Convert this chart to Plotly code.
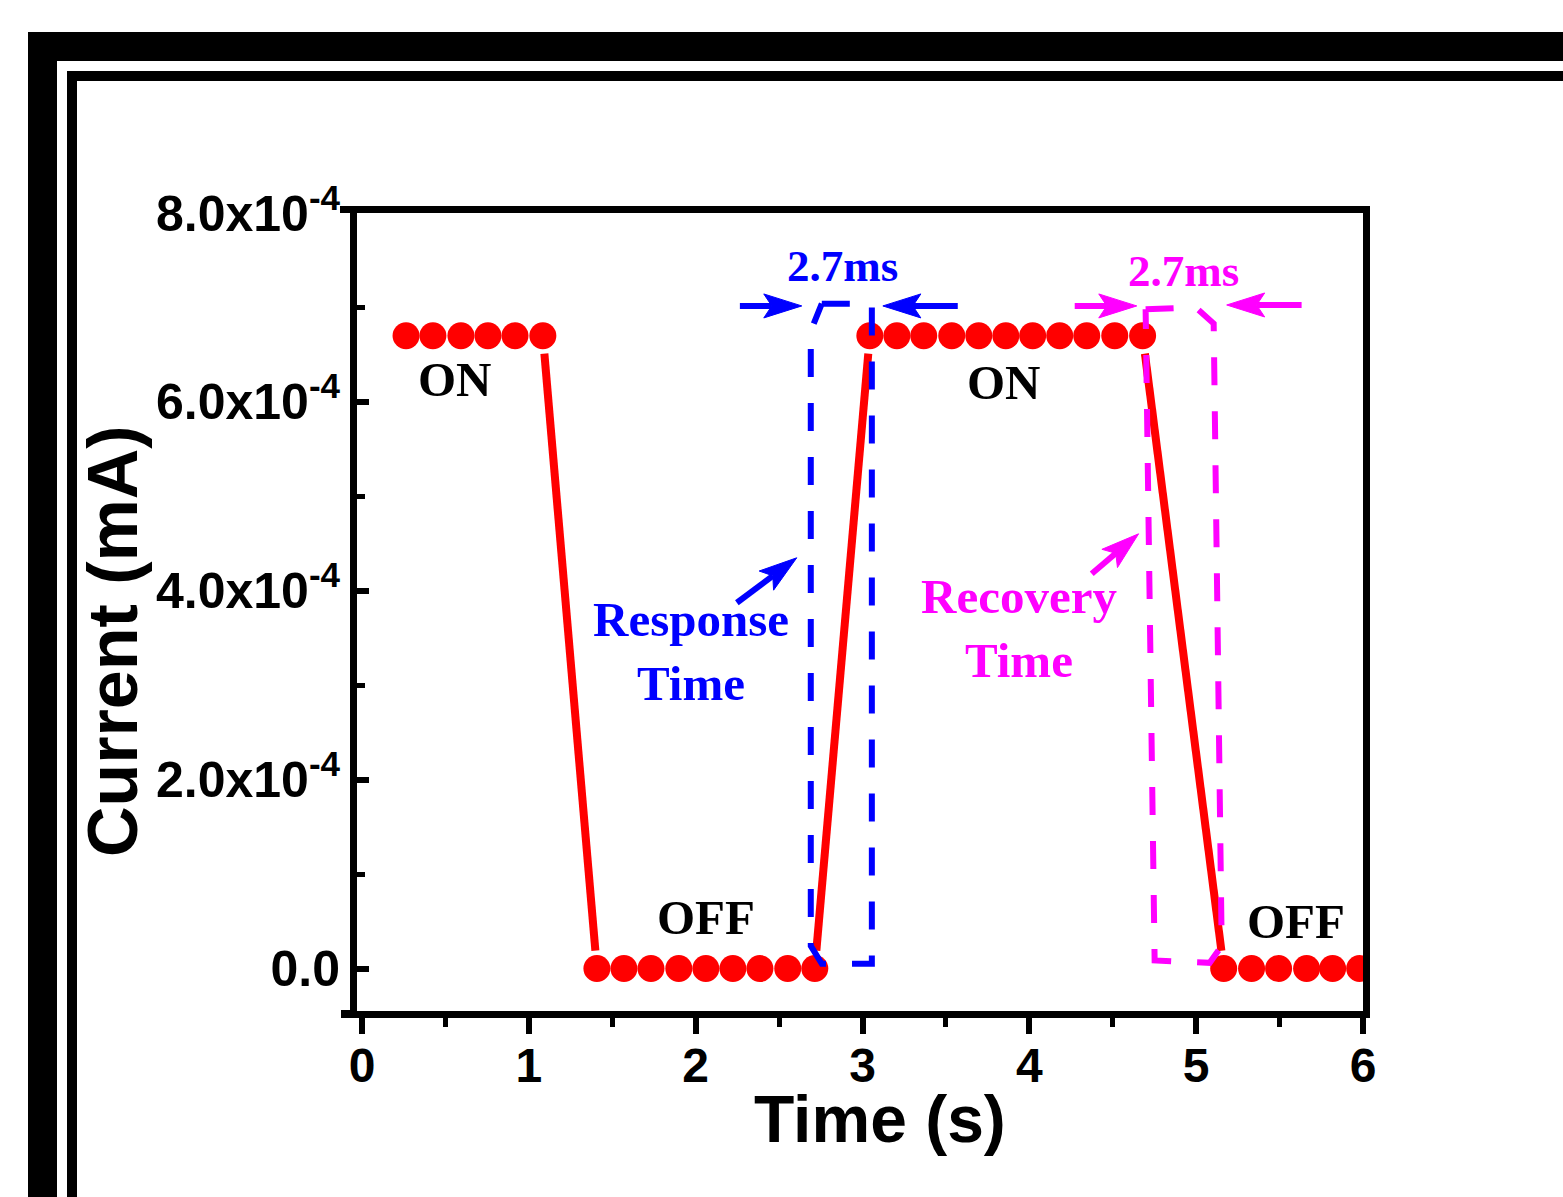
import math
import plotly.graph_objects as go

# ---------------- data ----------------
time_s = [0.264, 0.425, 0.593, 0.755, 0.917, 1.084,
          1.408, 1.570, 1.732, 1.899, 2.061, 2.223, 2.385, 2.552, 2.714,
          3.044, 3.206, 3.367, 3.535, 3.697, 3.859, 4.020, 4.182, 4.344, 4.512, 4.679,
          5.165, 5.332, 5.494, 5.662, 5.818, 5.980]
current_mA = [6.7e-4, 6.7e-4, 6.7e-4, 6.7e-4, 6.7e-4, 6.7e-4,
              0.0, 0.0, 0.0, 0.0, 0.0, 0.0, 0.0, 0.0, 0.0,
              6.7e-4, 6.7e-4, 6.7e-4, 6.7e-4, 6.7e-4, 6.7e-4, 6.7e-4, 6.7e-4, 6.7e-4, 6.7e-4, 6.7e-4,
              0.0, 0.0, 0.0, 0.0, 0.0, 0.0]

x_tick_vals = [0, 1, 2, 3, 4, 5, 6]
x_tick_text = ["0", "1", "2", "3", "4", "5", "6"]
y_tick_vals = [0.0, 2e-4, 4e-4, 6e-4, 8e-4]
y_tick_text = ["0.0", "2.0x10<sup>-4</sup>", "4.0x10<sup>-4</sup>",
               "6.0x10<sup>-4</sup>", "8.0x10<sup>-4</sup>"]

# response-time (blue) and recovery-time (magenta) dashed outlines
resp_box_t = [2.756, 3.056, 3.056, 2.756, 2.690, 2.690, 2.756]
resp_box_i = [7.04e-4, 7.04e-4, 0.05e-4, 0.05e-4, 0.24e-4, 6.75e-4, 7.04e-4]
rec_box_t = [4.697, 4.997, 5.105, 5.153, 5.081, 4.751, 4.697]
rec_box_i = [6.98e-4, 7.00e-4, 6.83e-4, 0.24e-4, 0.06e-4, 0.085e-4, 6.98e-4]

# arrows: (tail_t, tail_i, head_t, head_i)
resp_arrows = [(2.265, 7.016e-4, 2.636, 7.016e-4),
               (3.571, 7.016e-4, 3.122, 7.016e-4),
               (2.247, 3.873e-4, 2.606, 4.349e-4)]
rec_arrows = [(4.272, 7.016e-4, 4.644, 7.016e-4),
              (5.632, 7.026e-4, 5.183, 7.026e-4),
              (4.374, 4.180e-4, 4.655, 4.603e-4)]

# labels: (text, t, i, color, size)
labels = [("ON", 0.557, 6.24e-4, "black", 49),
          ("OFF", 2.061, 0.54e-4, "black", 49),
          ("ON", 3.847, 6.20e-4, "black", 49),
          ("OFF", 5.596, 0.50e-4, "black", 49),
          ("2.7ms", 2.882, 7.44e-4, "#0000FF", 45),
          ("2.7ms", 4.925, 7.39e-4, "#FF00FF", 45),
          ("Response<br>Time", 1.971, 3.36e-4, "#0000FF", 49),
          ("Recovery<br>Time", 3.936, 3.60e-4, "#FF00FF", 49)]

# ---------------- geometry ----------------
FIG_W, FIG_H = 1563, 1197
L, T, PW, PH = 357, 213, 1006, 798
R = FIG_W - L - PW
B = FIG_H - T - PH
X_RANGE = [-0.03, 6.0]
Y_RANGE = [-0.45e-4, 8.0e-4]


def px(t):
    return L + (t - X_RANGE[0]) / (X_RANGE[1] - X_RANGE[0]) * PW


def py(i):
    return T + (Y_RANGE[1] - i) / (Y_RANGE[1] - Y_RANGE[0]) * PH


def inv_t(X):
    return X_RANGE[0] + (X - L) / PW * (X_RANGE[1] - X_RANGE[0])


def inv_i(Y):
    return Y_RANGE[1] - (Y - T) / PH * (Y_RANGE[1] - Y_RANGE[0])


def paper_x(X):
    return (X - L) / PW


def paper_y(Y):
    return 1 - (Y - T) / PH


RED = "#FF0000"
BLUE = "#0000FF"
MAG = "#FF00FF"
SANS = "Liberation Sans"
SERIF = "Liberation Serif"

fig = go.Figure()

# gapped connecting line ("gap to symbol")
GAP = 18
lx, ly = [], []
for k in range(len(time_s) - 1):
    x0, y0 = px(time_s[k]), py(current_mA[k])
    x1, y1 = px(time_s[k + 1]), py(current_mA[k + 1])
    d = math.hypot(x1 - x0, y1 - y0)
    if d <= 2 * GAP:
        continue
    ux, uy = (x1 - x0) / d, (y1 - y0) / d
    lx += [inv_t(x0 + ux * GAP), inv_t(x1 - ux * GAP), None]
    ly += [inv_i(y0 + uy * GAP), inv_i(y1 - uy * GAP), None]

fig.add_trace(go.Scatter(x=lx, y=ly, mode="lines",
                         line=dict(color=RED, width=8),
                         hoverinfo="skip", showlegend=False))
fig.add_trace(go.Scatter(x=time_s, y=current_mA, mode="markers",
                         marker=dict(color=RED, size=27, line=dict(width=0)),
                         showlegend=False))

fig.add_trace(go.Scatter(x=resp_box_t, y=resp_box_i, mode="lines",
                         line=dict(color=BLUE, width=6, dash="28px,26px"),
                         hoverinfo="skip", showlegend=False))
fig.add_trace(go.Scatter(x=rec_box_t, y=rec_box_i, mode="lines",
                         line=dict(color=MAG, width=6, dash="28px,26px"),
                         hoverinfo="skip", showlegend=False))

shapes = []


def add_arrow(a, color):
    tt, ti, ht, hi = a
    x0, y0 = px(tt), py(ti)
    x1, y1 = px(ht), py(hi)
    d = math.hypot(x1 - x0, y1 - y0)
    ux, uy = (x1 - x0) / d, (y1 - y0) / d
    nx, ny = -uy, ux
    hl, hw, notch = 38, 12, 30
    sx, sy = x1 - ux * notch, y1 - uy * notch
    shapes.append(dict(type="line", xref="paper", yref="paper",
                       x0=paper_x(x0), y0=paper_y(y0), x1=paper_x(sx), y1=paper_y(sy),
                       line=dict(color=color, width=6)))
    pts = [(x1, y1),
           (x1 - ux * hl + nx * hw, y1 - uy * hl + ny * hw),
           (x1 - ux * notch, y1 - uy * notch),
           (x1 - ux * hl - nx * hw, y1 - uy * hl - ny * hw)]
    path = "M " + " L ".join(f"{paper_x(X):.5f},{paper_y(Y):.5f}" for X, Y in pts) + " Z"
    shapes.append(dict(type="path", xref="paper", yref="paper", path=path,
                       fillcolor=color, line=dict(color=color, width=1)))


for a in resp_arrows:
    add_arrow(a, BLUE)
for a in rec_arrows:
    add_arrow(a, MAG)


def rect(X0, Y0, X1, Y1, color="black", layer="above"):
    shapes.append(dict(type="rect", xref="paper", yref="paper",
                       x0=paper_x(X0), x1=paper_x(X1), y0=paper_y(Y0), y1=paper_y(Y1),
                       fillcolor=color, line=dict(width=0), layer=layer))


# outer decorative frame
rect(28, 32, 57, FIG_H + 5)
rect(28, 32, FIG_W + 5, 61)
rect(67, 71, 77, FIG_H + 5)
rect(67, 71, FIG_W + 5, 81)
# Origin-style axis line overhang
rect(341, 1010, 357, 1018)
rect(340, 206, 357, 213)

annotations = []
for text, t, i, color, size in labels:
    annotations.append(dict(x=t, y=i, xref="x", yref="y", text=text, showarrow=False,
                            align="center", xanchor="center", yanchor="middle",
                            font=dict(family=SERIF, size=size, color=color, weight=700)))

annotations.append(dict(x=paper_x(113), y=paper_y(641), xref="paper", yref="paper",
                        text="Current (mA)", textangle=-90, showarrow=False,
                        xanchor="center", yanchor="middle",
                        font=dict(family=SANS, size=70, color="black", weight=700)))
annotations.append(dict(x=paper_x(880), y=paper_y(1119), xref="paper", yref="paper",
                        text="Time (s)", showarrow=False,
                        xanchor="center", yanchor="middle",
                        font=dict(family=SANS, size=66, color="black", weight=700)))

fig.update_layout(
    width=FIG_W, height=FIG_H,
    margin=dict(l=L, r=R, t=T, b=B, pad=0),
    paper_bgcolor="white", plot_bgcolor="white",
    shapes=shapes, annotations=annotations,
    showlegend=False,
    xaxis=dict(range=X_RANGE, tickvals=x_tick_vals, ticktext=x_tick_text,
               ticks="outside", ticklen=16, tickwidth=6, tickcolor="black",
               showline=True, linewidth=7, linecolor="black", mirror=True,
               showgrid=False, zeroline=False, ticklabelstandoff=-10,
               tickfont=dict(family=SANS, size=48, color="black", weight=700),
               minor=dict(ticks="outside", ticklen=9, tickwidth=5, tickcolor="black",
                          dtick=0.5, tick0=0, showgrid=False)),
    yaxis=dict(range=Y_RANGE, tickvals=y_tick_vals, ticktext=y_tick_text,
               ticks="inside", ticklen=12, tickwidth=6, tickcolor="black",
               showline=True, linewidth=7, linecolor="black", mirror=True,
               showgrid=False, zeroline=False,
               tickfont=dict(family=SANS, size=50, color="black", weight=700),
               minor=dict(ticks="inside", ticklen=8, tickwidth=5, tickcolor="black",
                          dtick=1e-4, tick0=0, showgrid=False)),
)

fig.write_html("out.html")
